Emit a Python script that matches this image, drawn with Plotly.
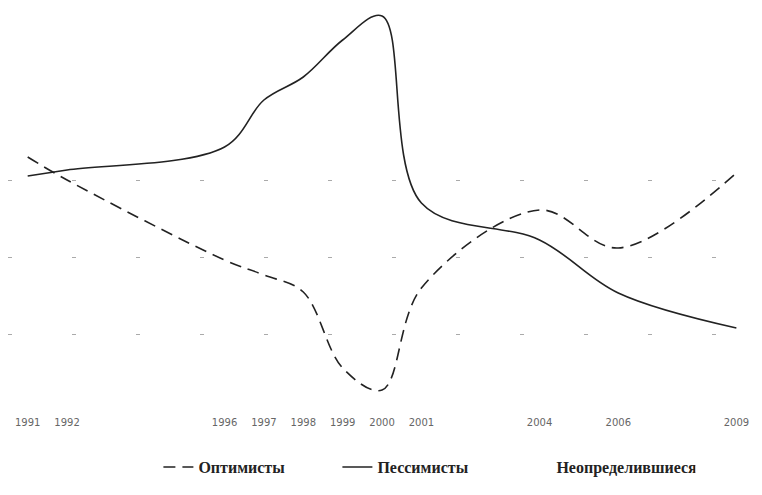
import plotly.graph_objects as go

years = [1991, 1992, 1996, 1997, 1998, 1999, 2000, 2001, 2004, 2006, 2009]
tick_labels = [str(y) for y in years]

optimists = [48.6, 44.0, 28.0, 25.0, 21.6, 6.4, 2.0, 22.4, 38.0, 30.4, 45.4]
pessimists = [44.8, 46.0, 50.6, 60.0, 64.6, 72.0, 76.8, 39.4, 32.0, 21.4, 14.4]

grid_levels = [13.2, 28.6, 44.0]

names = ["Оптимисты", "Пессимисты", "Неопределившиеся"]

fig = go.Figure()
fig.add_trace(go.Scatter(
    x=years, y=optimists, name=names[0], mode="lines",
    line=dict(color="#222222", width=1.6, dash="12px,7px", shape="spline", smoothing=1.0),
))
fig.add_trace(go.Scatter(
    x=years, y=pessimists, name=names[1], mode="lines",
    line=dict(color="#222222", width=1.6, shape="spline", smoothing=1.0),
))
fig.add_trace(go.Scatter(
    x=[None], y=[None], name=names[2], mode="lines",
    line=dict(color="rgba(0,0,0,0)", width=1),
))

fig.update_layout(
    width=762, height=487,
    margin=dict(l=0, r=10, t=2, b=95),
    paper_bgcolor="white", plot_bgcolor="white",
    showlegend=True,
    legend=dict(
        orientation="h", x=0.2, xanchor="left", y=-0.172, yanchor="middle",
        font=dict(family="Liberation Serif", size=16, color="#222222", weight="bold"),
        entrywidth=134, bgcolor="rgba(0,0,0,0)",
    ),
    xaxis=dict(
        range=[1990.5, 2009.6], tickvals=years, ticktext=tick_labels,
        showgrid=False, zeroline=False, showline=False, ticks="",
        ticklabelstandoff=15, ticklabeloverflow="allow",
        tickfont=dict(family="DejaVu Sans", size=10, color="#666666"),
    ),
    yaxis=dict(
        range=[0, 78], tickvals=grid_levels, showticklabels=False,
        showgrid=True, gridcolor="#aaaaaa", gridwidth=1, griddash="4px,60px",
        zeroline=False, showline=False, ticks="",
    ),
)

fig.write_html("out.html")
